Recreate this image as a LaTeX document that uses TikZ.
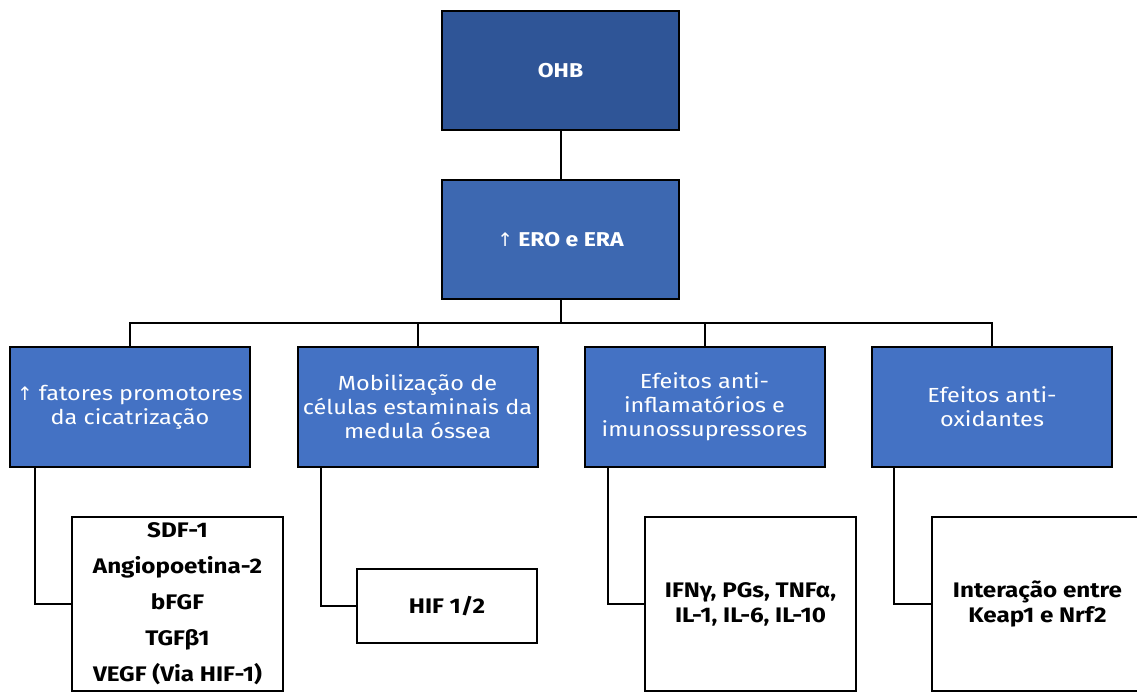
\documentclass[tikz,border=0pt]{standalone}
\usepackage{fontspec}
\setmainfont{Fira Sans}[FakeStretch=1.15]
\newfontfamily\symfont{DejaVu Sans}
\definecolor{dkblue}{HTML}{2F5597}
\definecolor{mdblue}{HTML}{3D68B1}
\definecolor{ltblue}{HTML}{4472C4}
\tikzset{
  px/.style={x=0.75pt,y=-0.75pt},
  topbox/.style={draw=black,line width=1.5pt,minimum width=177.75pt,minimum height=89.25pt,inner sep=2pt,text=white,font=\fontsize{15}{18}\selectfont\bfseries,align=center},
  midbox/.style={draw=black,line width=1.5pt,fill=ltblue,minimum width=180pt,minimum height=90pt,inner sep=1pt,text=white,font=\fontsize{15.3}{18}\selectfont,align=center},
  leafbox/.style={draw=black,line width=1.5pt,fill=white,inner sep=1pt,align=center},
  conn/.style={draw=black,line width=1.5pt}
}
\begin{document}
\begin{tikzpicture}[px]
\useasboundingbox (0,0) rectangle (1137,693);
\node[topbox,fill=dkblue] (ohb) at (560.5,70.5) {OHB};
\node[topbox,fill=mdblue] (ero) at (560.5,239.5) {{\symfont\mdseries\fontsize{14}{18}\selectfont ↑} ERO e ERA};
\node[midbox] (b1) at (130,407) {{\symfont\fontsize{14}{18}\selectfont ↑} fatores promotores\\da cicatrização};
\node[midbox] (b2) at (417.5,407) {Mobilização de\\células estaminais da\\medula óssea};
\node[midbox] (b3) at (704.5,407) {Efeitos anti-\\inflamatórios e\\imunossupressores};
\node[midbox] (b4) at (992,407) {Efeitos anti-\\oxidantes};
\node[leafbox,minimum width=158.25pt,minimum height=130.5pt,font=\fontsize{15.8}{27}\selectfont\bfseries] (l1) at (177.5,604) {SDF-1\\Angiopoetina-2\\bFGF\\TGFβ1\\VEGF (Via HIF-1)};
\node[leafbox,minimum width=135pt,minimum height=55.5pt,font=\fontsize{15.8}{18}\selectfont\bfseries] (l2) at (447,606) {HIF 1/2};
\node[leafbox,minimum width=158.25pt,minimum height=130.5pt,font=\fontsize{15.8}{18.75}\selectfont\bfseries] (l3) at (750.5,604) {IFNγ, PGs, TNFα,\\IL-1, IL-6, IL-10};
\node[leafbox,minimum width=158.25pt,minimum height=130.5pt,font=\fontsize{15.8}{18.75}\selectfont\bfseries] (l4) at (1037.5,604) {Interação entre\\Keap1 e Nrf2};
\coordinate (bus) at (560.5,323);
\draw[conn] (ohb) -- (ero);
\draw[conn] (ero.south) -- (bus) -| (b1.north);
\draw[conn] (ero.south) -- (bus) -| (b2.north);
\draw[conn] (ero.south) -- (bus) -| (b3.north);
\draw[conn] (ero.south) -- (bus) -| (b4.north);
\draw[conn] ([xshift=19.5pt]b1.south west) |- (l1.west);
\draw[conn] ([xshift=18pt]b2.south west) |- (l2.west);
\draw[conn] ([xshift=18pt]b3.south west) |- (l3.west);
\draw[conn] ([xshift=17.25pt]b4.south west) |- (l4.west);
\end{tikzpicture}
\end{document}
